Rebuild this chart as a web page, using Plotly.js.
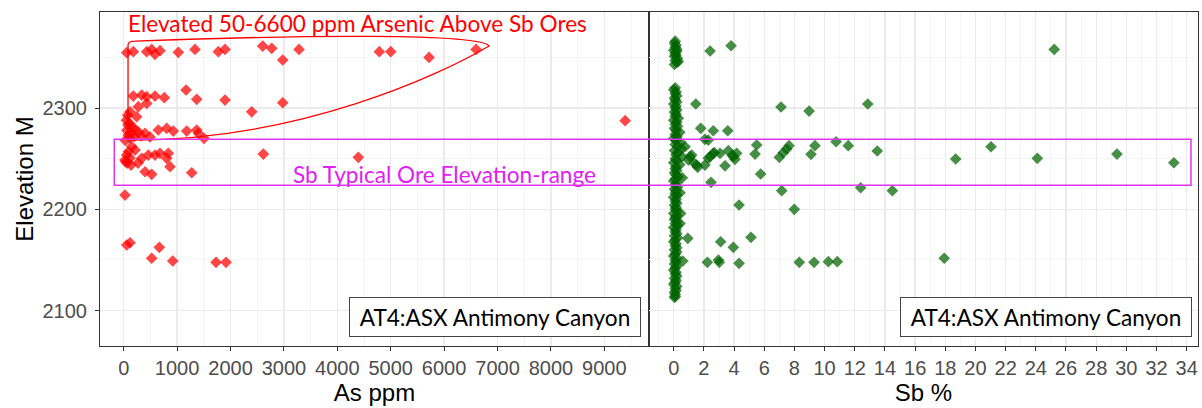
<!DOCTYPE html>
<html>
<head>
<meta charset="utf-8">
<script src="https://cdn.plot.ly/plotly-3.0.1.min.js"></script>
<style>html,body{margin:0;padding:0;background:#fff;}#chart{width:1202px;height:408px;}</style>
</head>
<body>
<div id="chart"></div>
<script>
// ---- Data: left panel, As ppm vs elevation ----
const asPpm = [56,180,431,524,586,680,1023,1335,1772,1897,2603,2772,2978,3283,4787,5001,5718,6599,
  180,337,431,431,586,760,1167,1367,1897,2397,2978,273,118,243,75,81,
  212,273,399,648,805,929,1180,1367,1397,1504,86,118,137,324,493,50,100,160,60,200,30,
  24,56,62,118,212,337,461,586,680,835,805,867,399,524,1274,2615,4394,268,137,40,90,150,
  24,9390,56,118,524,667,918,1729,1916];
const asElev = [2354.6,2355.6,2355.6,2357.9,2353,2356.6,2355,2357.9,2355.6,2357.9,2361.2,2358.9,2347.4,2357.9,2355.6,2355.6,2350,2357.9,
  2311.8,2312.8,2311.2,2304.6,2311.8,2310.2,2317.8,2308.6,2307.9,2296.3,2305.2,2301.3,2296.3,2291.4,2293,2283,
  2278.3,2276.6,2275,2278.3,2280,2277.3,2277.3,2278.3,2275,2270.1,2273.4,2270.4,2275.3,2272.4,2271.4,2288,2285,2282,2278,2272,2268,
  2248.7,2253.6,2245.7,2250.6,2258.5,2250.4,2253.6,2253.6,2255.3,2255.3,2250.4,2242.1,2237.1,2234.6,2236.1,2254.6,2251.3,2245.7,2243.7,2247,2257,2262,
  2214.1,2287.5,2164.8,2167,2151.7,2162.5,2149,2147.7,2147.7];

// ---- Data: right panel, Sb % vs elevation ----
// dense column of samples near 0 % Sb
const sbColumn = [
  0.1,0.05,0.15,0.1,0.2,0.0,0.2,0.1,0.15,0.05,0.25,0.1,0.2,0.05,0.3,
  0.1,0.0,0.15,0.1,0.2,0.05,0.1,0.2,0.0,0.15,
  0.1,0.2,0.05,0.15,0.1,0.3,0.0,0.2,0.1,0.25,
  0.05,0.15,0.4,0.1,0.2,0.0,0.15,0.45,0.1,0.25,
  0.5,0.05,0.3,0.15,0.55,0.1,0.2,0.0,0.4,0.15,
  0.1,0.2,0.05,0.15,0.3,0.1,0.0,0.2,0.1,0.25,
  0.05,0.15,0.1,0.2,0.0,0.15,0.1,0.2,0.05,0.15,
  0.1,0.2,0.0,0.2,0.1,0.05,0.2,0.1,0.25,0.0,
  0.15,0.1,0.2,0.05,0.25,0.1,0.0,0.15,0.1,0.2,
  0.05,0.2,0.1,0.0,0.2,0.1,0.15,0.05,0.2,0.1,
  0.0,0.15,0.1,0.2,0.05,0.15,0.1,0.0,0.2,0.1,
  0.15,0.05,0.1,0.1,0.05];
const elevColumn = [
  2366,2364,2362,2360,2358,2357,2356,2354,2352,2351,2349,2347,2345,2343,2346,
  2320,2318,2316,2314,2312,2310,2308,2306,2304,2302,
  2300,2298,2296,2294,2292,2290,2288,2286,2284,2282,
  2280,2278,2276,2274,2272,2270,2268,2266,2264,2262,
  2260,2258,2256,2254,2252,2250,2248,2246,2244,2242,
  2240,2238,2236,2234,2232,2230,2228,2226,2224,2222,
  2220,2218,2216,2214,2212,2210,2208,2206,2204,2202,
  2200,2198,2196,2194,2192,2190,2188,2186,2184,2182,
  2180,2178,2176,2174,2172,2170,2168,2166,2164,2162,
  2160,2158,2156,2154,2152,2150,2148,2146,2144,2142,
  2140,2138,2136,2134,2132,2130,2128,2126,2124,2122,
  2120,2118,2116,2114,2113];
// scattered higher-grade samples
const sbScatter = [
  2.41,3.80,1.46,7.11,8.97,12.86,1.79,2.62,3.58,2.29,5.50,7.64,7.49,7.26,7.00,9.36,9.10,10.76,11.57,13.49,5.39,5.76,2.47,0.57,
  1.19,1.52,2.07,2.29,2.62,3.07,3.40,3.62,3.95,4.17,0.97,0.75,1.08,1.37,1.59,2.41,2.69,3.88,4.06,2.07,
  18.69,21.03,24.10,25.22,29.38,33.15,7.16,12.39,14.49,0.42,
  4.33,7.99,0.93,3.11,3.95,5.12,2.23,2.96,3.02,4.33,8.32,9.30,10.25,10.84,0.60,0.42,0.46,17.93];
const elevScatter = [
  2356.3,2361.5,2304,2301,2297,2304,2280,2277.6,2277.6,2268.4,2263.5,2262.8,2259.5,2255.9,2251.3,2262.8,2254.3,2266.7,2262.8,2257.6,2254.6,2234.9,2226.7,2231.2,
  2253.6,2243.7,2243.7,2250.4,2255.3,2255.3,2243,2257.9,2252,2255.3,2248.7,2261.8,2252,2245.4,2241.5,2252,2255.9,2253.6,2249.4,2269.1,
  2249.7,2261.8,2250.4,2357.9,2254.6,2246,2218.4,2221.3,2218.4,2216.4,
  2204.3,2200,2171.4,2168,2162.5,2172.4,2147.7,2150,2147.7,2146.7,2147.7,2147.7,2148.3,2148.3,2149,2186,2196,2151.7];

const xTitleLeft = 'As ppm';
const xTitleRight = 'Sb %';
const yTitle = 'Elevation M';
const noteAs = 'Elevated 50-6600 ppm Arsenic Above Sb Ores';
const noteOre = 'Sb Typical Ore Elevation-range';
const panelLabel = 'AT4:ASX Antimony Canyon';

const tickFont = {family: 'Liberation Sans, Arial, sans-serif', size: 20, color: '#4D4D4D'};
const titleFont = {family: 'Liberation Sans, Arial, sans-serif', size: 24, color: '#000'};
const noteFamily = 'Lato, "Open Sans", sans-serif';

const traces = [
  {type: 'scatter', mode: 'markers', x: asPpm, y: asElev, xaxis: 'x', yaxis: 'y',
   marker: {symbol: 'diamond', size: 9, color: 'rgba(255,0,0,0.72)'}, hoverinfo: 'x+y'},
  {type: 'scatter', mode: 'markers', x: sbColumn.concat(sbScatter), y: elevColumn.concat(elevScatter),
   xaxis: 'x2', yaxis: 'y2',
   marker: {symbol: 'diamond', size: 9, color: 'rgba(0,100,0,0.72)'}, hoverinfo: 'x+y'}
];

const axisCommon = {
  showline: true, linecolor: '#333', linewidth: 1, mirror: true,
  ticks: 'outside', ticklen: 4, tickcolor: '#333', tickwidth: 1,
  showgrid: true, gridcolor: '#EBEBEB', gridwidth: 1.3, zeroline: false,
  tickfont: tickFont
};

const layout = {
  width: 1202, height: 408,
  margin: {l: 100, r: 4, t: 12, b: 62},
  paper_bgcolor: '#fff', plot_bgcolor: '#fff',
  showlegend: false,
  font: {family: 'Liberation Sans, Arial, sans-serif'},
  xaxis: Object.assign({}, axisCommon, {
    domain: [0, 0.5], anchor: 'y', range: [-444, 9837], tick0: 0, dtick: 1000, tickformat: 'd',
    ticklabelstandoff: 0,
    minor: {dtick: 500, showgrid: true, gridcolor: '#F3F3F3', gridwidth: 0.8},
    title: {text: xTitleLeft, font: titleFont, standoff: 0}
  }),
  xaxis2: Object.assign({}, axisCommon, {
    domain: [0.5, 1], anchor: 'y2', range: [-1.64, 34.75], tick0: 0, dtick: 2,
    ticklabelstandoff: 0,
    minor: {dtick: 1, showgrid: true, gridcolor: '#F3F3F3', gridwidth: 0.8},
    title: {text: xTitleRight, font: titleFont, standoff: 0}
  }),
  yaxis: Object.assign({}, axisCommon, {
    domain: [0, 1], anchor: 'x', range: [2065.1, 2394.8], tick0: 2100, dtick: 100,
    ticklabelstandoff: 4,
    minor: {dtick: 50, showgrid: true, gridcolor: '#F3F3F3', gridwidth: 0.8},
    title: {text: yTitle, font: titleFont, standoff: 2}
  }),
  yaxis2: Object.assign({}, axisCommon, {
    domain: [0, 1], anchor: 'x2', matches: 'y', range: [2065.1, 2394.8], tick0: 2100, dtick: 100,
    showticklabels: false, ticks: '',
    minor: {dtick: 50, showgrid: true, gridcolor: '#F3F3F3', gridwidth: 0.8}
  }),
  shapes: [
    {type: 'path', xref: 'x', yref: 'y',
     path: 'M 174,2268.4 Q 62,2268.4 81,2278.3 L 81,2362.2 Q 81,2366.1 212,2366.1 C 3302,2372.1 6673,2374 6842,2361.2 C 5924,2332.6 3302,2268.4 174,2268.4 Z',
     line: {color: '#FF0000', width: 1.3}, fillcolor: 'rgba(0,0,0,0)'},
    {type: 'rect', xref: 'paper', yref: 'y', x0: 0.013, x1: 0.9936, y0: 2223.7, y1: 2269.1,
     line: {color: '#E033F0', width: 1.5}, fillcolor: 'rgba(0,0,0,0)'}
  ],
  annotations: [
    {xref: 'paper', yref: 'paper', x: 0.0237, y: 0.967, xanchor: 'left', yanchor: 'middle',
     text: noteAs, showarrow: false, font: {family: noteFamily, size: 22.6, color: '#FF0000'}},
    {xref: 'paper', yref: 'paper', x: 0.3142, y: 0.512, xanchor: 'center', yanchor: 'middle',
     text: noteOre, showarrow: false, font: {family: noteFamily, size: 22.6, color: '#E020F0'}},
    {xref: 'paper', yref: 'paper', x: 0.3602, y: 0.0868, xanchor: 'center', yanchor: 'middle',
     text: panelLabel, showarrow: false, width: 290, height: 38, bgcolor: '#fff',
     bordercolor: '#444', borderwidth: 1, borderpad: 0,
     font: {family: noteFamily, size: 22.6, color: '#000'}},
    {xref: 'paper', yref: 'paper', x: 0.8616, y: 0.0868, xanchor: 'center', yanchor: 'middle',
     text: panelLabel, showarrow: false, width: 290, height: 38, bgcolor: '#fff',
     bordercolor: '#444', borderwidth: 1, borderpad: 0,
     font: {family: noteFamily, size: 22.6, color: '#000'}}
  ]
};

Plotly.newPlot('chart', traces, layout, {displayModeBar: false, staticPlot: true});
</script>
</body>
</html>
